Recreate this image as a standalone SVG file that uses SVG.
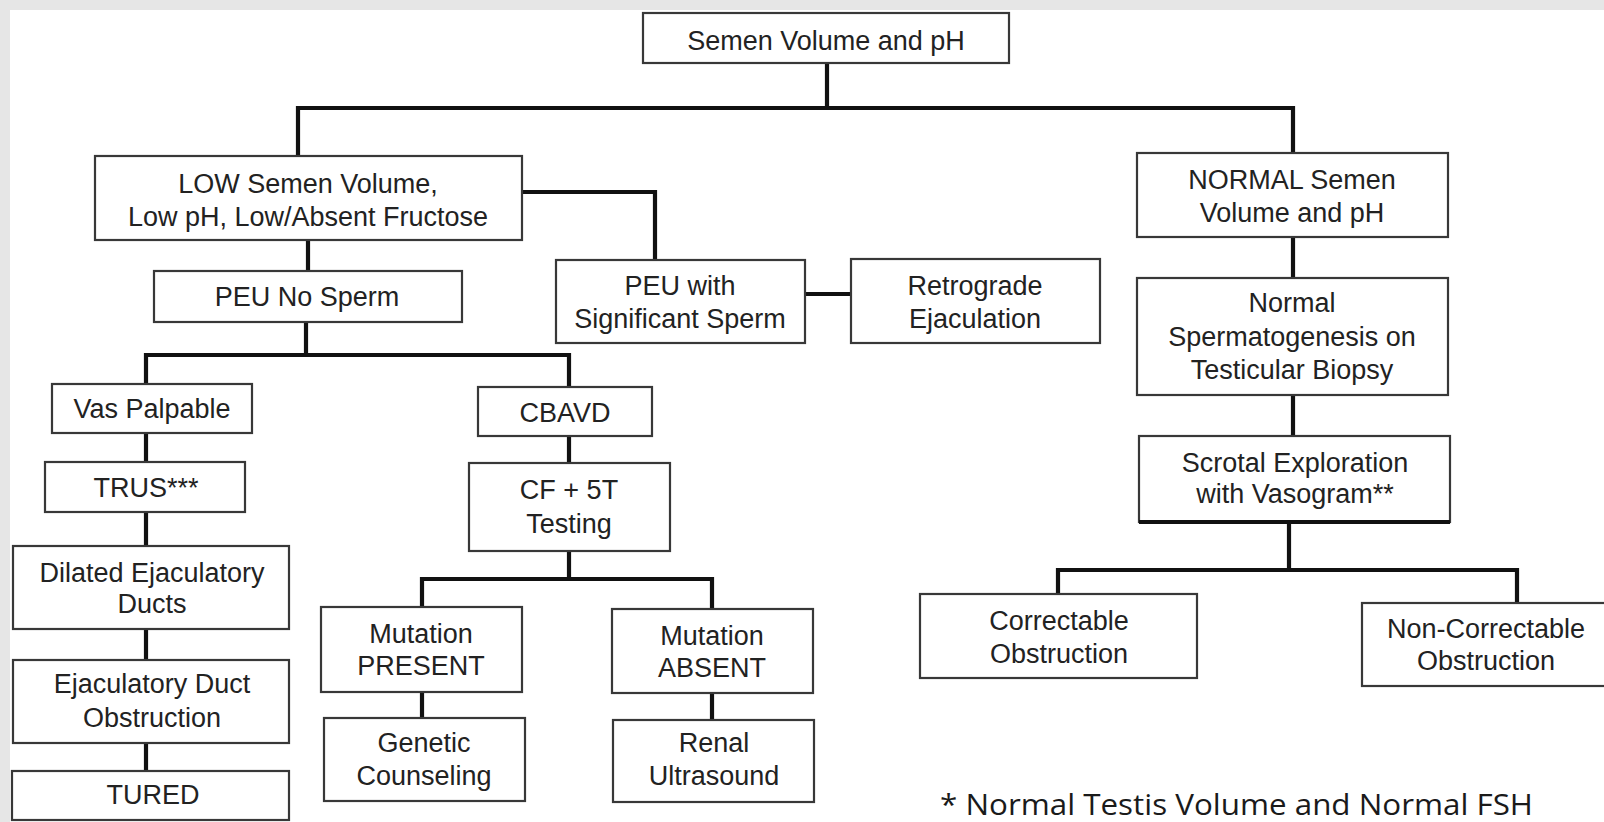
<svg xmlns="http://www.w3.org/2000/svg" width="1604" height="822" viewBox="0 0 1604 822">
<style>
.box{fill:#ffffff;stroke:#383838;stroke-width:2.2}
.t{font-family:"Liberation Sans",Arial,sans-serif;font-size:27px;fill:#222222;text-anchor:middle}
.c{fill:none;stroke:#111111;stroke-width:4.2;stroke-linejoin:miter}
.note{font-family:"Open Sans","Noto Sans",sans-serif;font-size:30px;fill:#1a1a1a}
</style>
<rect x="0" y="0" width="1604" height="822" fill="#e6e6e6"/>
<rect x="10" y="10" width="1594" height="812" fill="#ffffff"/>
<g id="connectors">
<path class="c" d="M827,63 V108"/>
<path class="c" d="M298,156 V108 H1293 V153"/>
<path class="c" d="M522,192 H655 V260"/>
<path class="c" d="M308,240 V271"/>
<path class="c" d="M805,294 H851"/>
<path class="c" d="M306,322 V355"/>
<path class="c" d="M146,384 V355 H569 V387"/>
<path class="c" d="M146,433 V462"/>
<path class="c" d="M146,512 V546"/>
<path class="c" d="M146,629 V660"/>
<path class="c" d="M146,743 V771"/>
<path class="c" d="M569,436 V463"/>
<path class="c" d="M569,551 V579"/>
<path class="c" d="M422,607 V579 H712 V609"/>
<path class="c" d="M422,692 V718"/>
<path class="c" d="M712,693 V720"/>
<path class="c" d="M1293,237 V278"/>
<path class="c" d="M1293,395 V436"/>
<path class="c" d="M1289,522 V570"/>
<path class="c" d="M1058,594 V570 H1517 V603"/>
</g>
<g id="n-top"><rect class="box" x="643" y="13" width="366" height="50"/><text class="t" x="826" y="50">Semen Volume and pH</text></g>
<g id="n-low"><rect class="box" x="95" y="156" width="427" height="84"/><text class="t" x="308" y="193">LOW Semen Volume,</text><text class="t" x="308" y="226">Low pH, Low/Absent Fructose</text></g>
<g id="n-peu-no"><rect class="box" x="154" y="271" width="308" height="51"/><text class="t" x="307" y="306">PEU No Sperm</text></g>
<g id="n-peu-sig"><rect class="box" x="556" y="260" width="249" height="83"/><text class="t" x="680" y="295">PEU with</text><text class="t" x="680" y="328">Significant Sperm</text></g>
<g id="n-retro"><rect class="box" x="851" y="259" width="249" height="84"/><text class="t" x="975" y="295">Retrograde</text><text class="t" x="975" y="328">Ejaculation</text></g>
<g id="n-normal"><rect class="box" x="1137" y="153" width="311" height="84"/><text class="t" x="1292" y="189">NORMAL Semen</text><text class="t" x="1292" y="222">Volume and pH</text></g>
<g id="n-sperm"><rect class="box" x="1137" y="278" width="311" height="117"/><text class="t" x="1292" y="312">Normal</text><text class="t" x="1292" y="346">Spermatogenesis on</text><text class="t" x="1292" y="379">Testicular Biopsy</text></g>
<g id="n-scrotal"><rect class="box" x="1139" y="436" width="311" height="86"/><path d="M1139,522 H1450" stroke="#111" stroke-width="4" fill="none"/><text class="t" x="1295" y="472">Scrotal Exploration</text><text class="t" x="1295" y="503">with Vasogram**</text></g>
<g id="n-correct"><rect class="box" x="920" y="594" width="277" height="84"/><text class="t" x="1059" y="630">Correctable</text><text class="t" x="1059" y="663">Obstruction</text></g>
<g id="n-noncorrect"><rect class="box" x="1362" y="603" width="260" height="83"/><text class="t" x="1486" y="638">Non-Correctable</text><text class="t" x="1486" y="670">Obstruction</text></g>
<g id="n-vas"><rect class="box" x="52" y="384" width="200" height="49"/><text class="t" x="152" y="418">Vas Palpable</text></g>
<g id="n-trus"><rect class="box" x="45" y="462" width="200" height="50"/><text class="t" x="146" y="497">TRUS***</text></g>
<g id="n-dilated"><rect class="box" x="13" y="546" width="276" height="83"/><text class="t" x="152" y="582">Dilated Ejaculatory</text><text class="t" x="152" y="613">Ducts</text></g>
<g id="n-edo"><rect class="box" x="13" y="660" width="276" height="83"/><text class="t" x="152" y="693">Ejaculatory Duct</text><text class="t" x="152" y="727">Obstruction</text></g>
<g id="n-tured"><rect class="box" x="12" y="771" width="277" height="49"/><text class="t" x="153" y="804">TURED</text></g>
<g id="n-cbavd"><rect class="box" x="478" y="387" width="174" height="49"/><text class="t" x="565" y="422">CBAVD</text></g>
<g id="n-cf"><rect class="box" x="469" y="463" width="201" height="88"/><text class="t" x="569" y="499">CF + 5T</text><text class="t" x="569" y="533">Testing</text></g>
<g id="n-present"><rect class="box" x="321" y="607" width="201" height="85"/><text class="t" x="421" y="643">Mutation</text><text class="t" x="421" y="675">PRESENT</text></g>
<g id="n-absent"><rect class="box" x="612" y="609" width="201" height="84"/><text class="t" x="712" y="645">Mutation</text><text class="t" x="712" y="677">ABSENT</text></g>
<g id="n-genetic"><rect class="box" x="324" y="718" width="201" height="83"/><text class="t" x="424" y="752">Genetic</text><text class="t" x="424" y="785">Counseling</text></g>
<g id="n-renal"><rect class="box" x="613" y="720" width="201" height="82"/><text class="t" x="714" y="752">Renal</text><text class="t" x="714" y="785">Ultrasound</text></g>
<text class="note" x="940" y="815" textLength="593" lengthAdjust="spacingAndGlyphs">* Normal Testis Volume and Normal FSH</text>
</svg>
